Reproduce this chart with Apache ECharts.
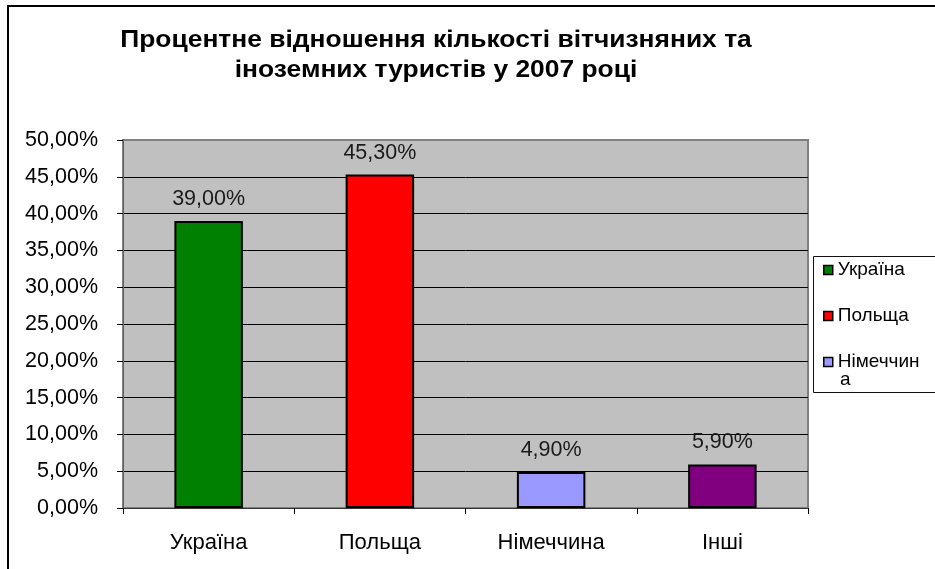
<!DOCTYPE html>
<html>
<head>
<meta charset="utf-8">
<script src="https://cdn.jsdelivr.net/npm/echarts@6/dist/echarts.min.js"></script>
<style>
html,body{margin:0;padding:0;background:#fff;}
#chart{width:935px;height:569px;}
</style>
</head>
<body>
<div id="chart"></div>
<script>
const titleLines = ['Процентне відношення кількості вітчизняних та', 'іноземних туристів у 2007 році'];
const categories = ['Україна', 'Польща', 'Німеччина', 'Інші'];
const values = [0.39, 0.453, 0.049, 0.059];
const colors = ['#008000', '#ff0000', '#9999ff', '#800080'];
const legendNames = ['Україна', 'Польща', 'Німеччина'];
const yTicks = { min: 0, max: 0.5, interval: 0.05 };

const FONT = "'Liberation Sans', Arial, sans-serif";
const fmtPct = v => (v * 100).toFixed(2).replace('.', ',') + '%';

const chart = echarts.init(document.getElementById('chart'), null, { renderer: 'canvas' });

const series = categories.map((name, i) => ({
  name: name,
  type: 'bar',
  stack: 'all',
  barWidth: '40%',
  data: values.map((v, j) => (j === i ? v : '-')),
  itemStyle: { color: colors[i], borderColor: '#000', borderWidth: 2 },
  label: {
    show: true,
    position: 'top',
    distance: 11,
    fontFamily: FONT,
    fontSize: 21.5,
    color: '#1a1a1a',
    formatter: p => fmtPct(p.value)
  },
  emphasis: { disabled: true },
  animation: false
}));

const splitColors = [];
for (let k = 0; k <= Math.round((yTicks.max - yTicks.min) / yTicks.interval); k++) splitColors.push('#000');
splitColors[splitColors.length - 1] = '#808080';

const titleY = [40.5, 70];

chart.setOption({
  backgroundColor: '#fff',
  animation: false,
  graphic: [
    { type: 'rect', silent: true, z: -1, shape: { x: 8, y: 6, width: 1000, height: 1000 },
      style: { fill: 'none', stroke: '#000', lineWidth: 2 } },
    { type: 'rect', silent: true, z: 0, shape: { x: 813.5, y: 256.5, width: 200, height: 136 },
      style: { fill: '#fff', stroke: '#111', lineWidth: 1 } },
    { type: 'text', silent: true, z: 10, x: 840, y: 380,
      style: { text: 'а', fontFamily: FONT, fontSize: 19, fill: '#000', verticalAlign: 'middle' } }
  ].concat(titleLines.map((t, i) => ({
    type: 'text', silent: true, z: 10, x: 436, y: titleY[i], scaleX: 1.1,
    style: { text: t, fontFamily: FONT, fontSize: 24, fontWeight: 'bold', fill: '#000',
             align: 'center', verticalAlign: 'middle' }
  }))),
  legend: {
    orient: 'vertical',
    left: 818,
    top: 255.5,
    z: 5,
    itemWidth: 9,
    itemHeight: 9,
    itemGap: 27,
    icon: 'rect',
    data: legendNames,
    formatter: n => (n === 'Німеччина' ? 'Німеччин' : n),
    itemStyle: { borderColor: '#000', borderWidth: 1.5 },
    textStyle: { fontFamily: FONT, fontSize: 19, color: '#000', lineHeight: 19 }
  },
  grid: {
    left: 123, top: 140, right: 127, bottom: 61,
    show: true,
    backgroundColor: '#c0c0c0',
    borderColor: '#808080',
    borderWidth: 2
  },
  xAxis: {
    type: 'category',
    data: categories,
    axisLine: { show: true, lineStyle: { color: '#333', width: 1 } },
    axisTick: { show: true, length: 6, lineStyle: { color: '#000' } },
    axisLabel: { margin: 24, fontFamily: FONT, fontSize: 22, color: '#000' },
    splitLine: { show: false }
  },
  yAxis: {
    type: 'value',
    min: yTicks.min,
    max: yTicks.max,
    interval: yTicks.interval,
    axisLine: { show: true, lineStyle: { color: '#606060', width: 1 } },
    axisTick: { show: true, length: 6, lineStyle: { color: '#000' } },
    axisLabel: { margin: 25, fontFamily: FONT, fontSize: 21.5, color: '#000', formatter: v => fmtPct(v) },
    splitLine: { show: true, lineStyle: { color: splitColors, width: 1 } }
  },
  series: series
});
</script>
</body>
</html>
